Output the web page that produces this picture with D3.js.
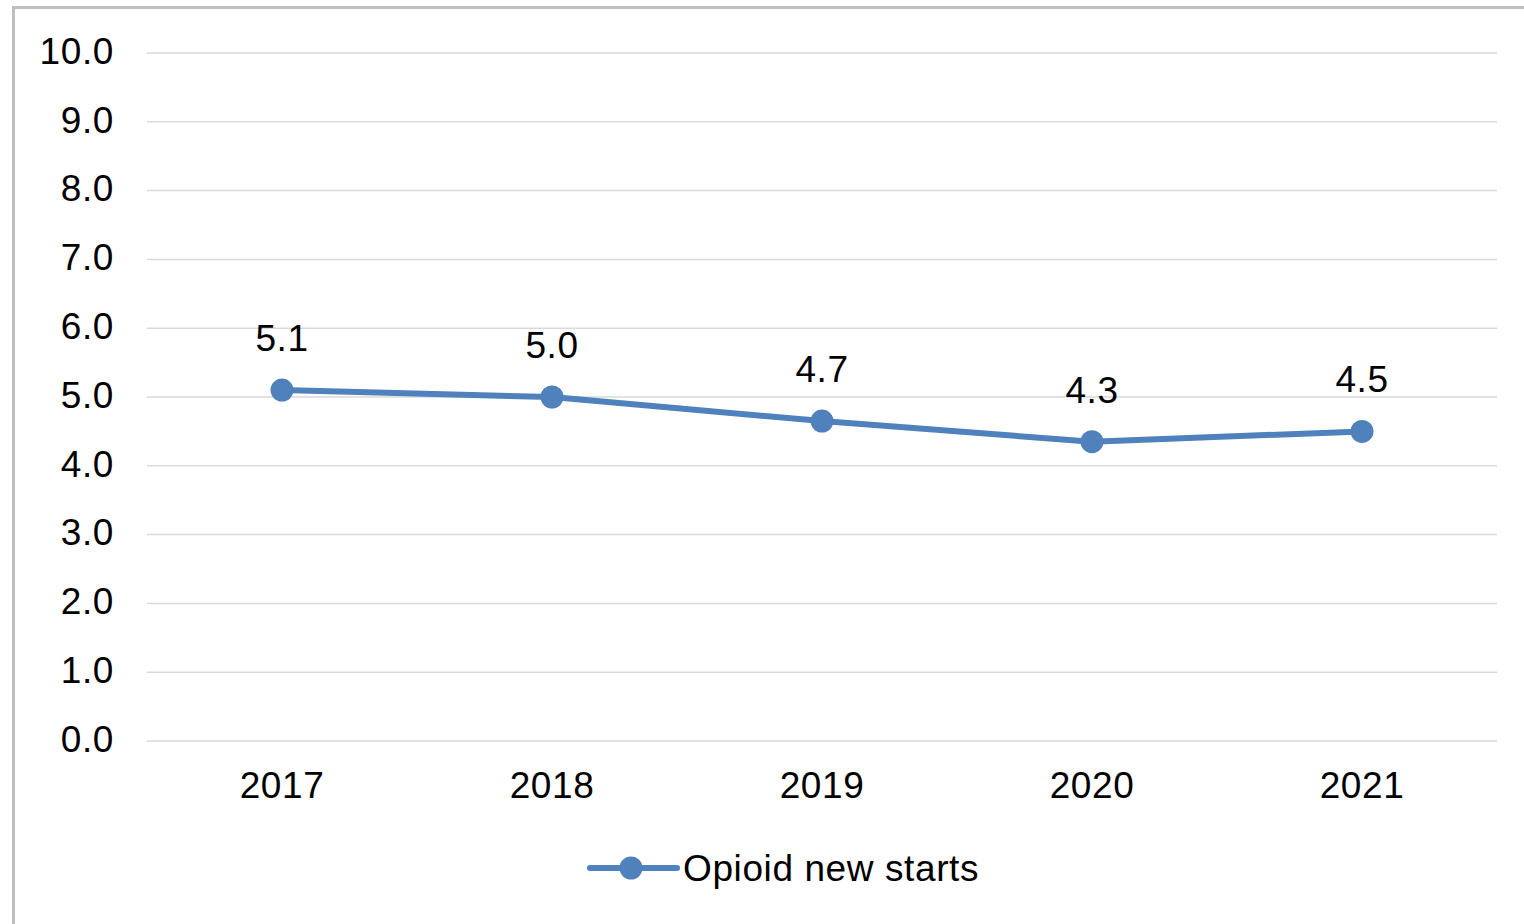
<!DOCTYPE html>
<html>
<head>
<meta charset="utf-8">
<script src="https://cdn.jsdelivr.net/npm/d3@7"></script>
<style>
  body { margin: 0; background: #fff; }
  text { font-family: "Liberation Sans", Arial, sans-serif; fill: #000; letter-spacing: 0.6px; }
</style>
</head>
<body>
<script>
// data
const years = ["2017", "2018", "2019", "2020", "2021"];
const newStarts = [5.1, 5.0, 4.65, 4.35, 4.5];
const yTicks = [0, 1, 2, 3, 4, 5, 6, 7, 8, 9, 10];
const seriesName = "Opioid new starts";

const W = 1524, H = 924;
const margin = {top: 53, right: 27, bottom: 183, left: 147},
    width = W - margin.left - margin.right,
    height = H - margin.top - margin.bottom;

const blue = "#4f81bd";
const fontSize = 37;

const svg = d3.select("body").append("svg")
    .attr("width", W)
    .attr("height", H);

// outer frame
svg.append("rect")
    .attr("x", 13.5)
    .attr("y", 7.5)
    .attr("width", W)
    .attr("height", H)
    .attr("fill", "none")
    .attr("stroke", "#bfbfbf")
    .attr("stroke-width", 3);

const g = svg.append("g")
    .attr("transform", "translate(" + margin.left + "," + margin.top + ")");

// scales
const x = d3.scaleBand().domain(years).range([0, width]);
const y = d3.scaleLinear().domain([0, 10]).range([height, 0]);
const cx = d => x(d) + x.bandwidth() / 2;

// gridlines
g.append("g")
    .selectAll("line")
    .data(yTicks)
    .join("line")
    .attr("x1", 0)
    .attr("x2", width)
    .attr("y1", d => y(d))
    .attr("y2", d => y(d))
    .attr("stroke", "#d9d9d9")
    .attr("stroke-width", 1.5);

// y axis labels
const yAxis = g.append("g")
    .attr("transform", "translate(-33,0)")
    .call(d3.axisLeft(y).tickValues(yTicks).tickFormat(d3.format(".1f")).tickSize(0));
yAxis.select(".domain").remove();
yAxis.selectAll("text")
    .attr("x", 0)
    .attr("dy", "0.28em")
    .style("font-size", fontSize + "px")
    .style("font-family", "Liberation Sans, Arial, sans-serif")
    .attr("fill", "#000");

// x axis labels
const xAxis = g.append("g")
    .attr("transform", "translate(0," + height + ")")
    .call(d3.axisBottom(x).tickSize(0));
xAxis.select(".domain").remove();
xAxis.selectAll("text")
    .attr("y", 57)
    .attr("dy", 0)
    .style("font-size", fontSize + "px")
    .style("font-family", "Liberation Sans, Arial, sans-serif")
    .attr("fill", "#000");

const points = years.map((d, i) => ({year: d, value: newStarts[i]}));

// the line
const line = d3.line()
    .x(d => cx(d.year))
    .y(d => y(d.value));

g.append("path")
    .datum(points)
    .attr("d", line)
    .attr("fill", "none")
    .attr("stroke", blue)
    .attr("stroke-width", 6)
    .attr("stroke-linejoin", "round")
    .attr("stroke-linecap", "round");

// markers
g.selectAll("circle.pt")
    .data(points)
    .join("circle")
    .attr("class", "pt")
    .attr("cx", d => cx(d.year))
    .attr("cy", d => y(d.value))
    .attr("r", 11.5)
    .attr("fill", blue);

// data labels
g.selectAll("text.lbl")
    .data(points)
    .join("text")
    .attr("class", "lbl")
    .attr("x", d => cx(d.year))
    .attr("y", d => y(d.value) - 39)
    .attr("text-anchor", "middle")
    .style("font-size", fontSize + "px")
    .text(d => d3.format(".1f")(d.value));

// legend
const legend = svg.append("g")
    .attr("transform", "translate(590,868)");
legend.append("line")
    .attr("x1", 0)
    .attr("x2", 87)
    .attr("stroke", blue)
    .attr("stroke-width", 6)
    .attr("stroke-linecap", "round");
legend.append("circle")
    .attr("cx", 41)
    .attr("r", 11.5)
    .attr("fill", blue);
legend.append("text")
    .attr("x", 93)
    .attr("y", 13)
    .style("font-size", fontSize + "px")
    .text(seriesName);
</script>
</body>
</html>
